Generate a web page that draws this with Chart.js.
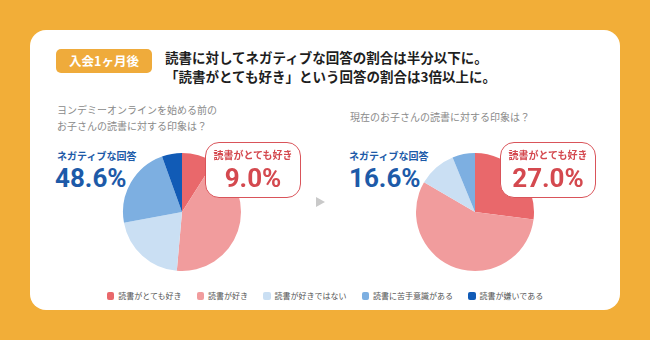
<!DOCTYPE html>
<html><head><meta charset="utf-8">
<script src="https://cdn.jsdelivr.net/npm/chart.js@4"></script>
<style>
html,body{margin:0;padding:0;}
body{width:650px;height:340px;background:#F2AE38;position:relative;overflow:hidden;font-family:"Noto Sans CJK JP","Noto Sans",sans-serif;}
.card{position:absolute;left:30px;top:30px;width:590px;height:280px;background:#fff;border-radius:16px;}
.abs{position:absolute;white-space:nowrap;}
.badge{left:56px;top:49px;width:96px;height:24px;background:#EFAB3B;border-radius:5px;color:#fff;font-weight:700;font-size:12.5px;line-height:24px;text-align:center;}
.title{left:165px;top:47.8px;font-weight:700;font-size:13.5px;line-height:19.5px;color:#1e1e1e;}
.sub{font-size:10px;line-height:16px;color:#8a8a8a;}
.neg{font-weight:700;font-size:10px;line-height:12px;color:#1D5AA8;}
.negv{font-family:Roboto,"Noto Sans",sans-serif;font-weight:700;font-size:26px;line-height:30px;color:#1D5AA8;}
.call{width:94px;height:54px;border:1.5px solid #D9545A;border-radius:14px;background:#fff;text-align:center;color:#D4494F;}
.call .l{position:absolute;left:0;right:0;top:6px;font-weight:700;font-size:10px;line-height:12px;}
.call .v{position:absolute;left:0;right:0;top:19.7px;font-family:Roboto,"Noto Sans",sans-serif;font-weight:700;font-size:26px;line-height:30px;}
.arrow{left:316px;top:197px;width:0;height:0;border-top:5.5px solid transparent;border-bottom:5.5px solid transparent;border-left:9px solid #C9C9C9;}
canvas{position:absolute;}
#legend{position:absolute;left:0;top:290px;width:650px;height:12px;display:flex;justify-content:center;align-items:center;gap:15px;}
#legend .it{display:flex;align-items:center;gap:4px;font-size:8px;color:#555;line-height:12px;}
#legend .sq{width:7.5px;height:7.5px;border-radius:2px;}
</style>
</head><body>
<div class="card"></div>
<div class="abs badge">入会1ヶ月後</div>
<div class="abs title">読書に対してネガティブな回答の割合は半分以下に。<br>「読書がとても好き」という回答の割合は3倍以上に。</div>
<div class="abs sub" style="left:57px;top:102px;">ヨンデミーオンラインを始める前の<br>お子さんの読書に対する印象は？</div>
<div class="abs sub" style="left:350px;top:108.5px;">現在のお子さんの読書に対する印象は？</div>
<div class="abs neg" style="left:57px;top:149.5px;">ネガティブな回答</div>
<div class="abs negv" style="left:55px;top:163.2px;" id="negLV"></div>
<div class="abs neg" style="left:349px;top:149.5px;">ネガティブな回答</div>
<div class="abs negv" style="left:349px;top:163.2px;" id="negRV"></div>
<canvas id="pieL" width="120" height="120" style="left:122px;top:152px;width:120px;height:120px;"></canvas>
<canvas id="pieR" width="120" height="120" style="left:415px;top:152px;width:120px;height:120px;"></canvas>
<div class="abs call" style="left:205px;top:142px;"><div class="l">読書がとても好き</div><div class="v" id="callLV"></div></div>
<div class="abs call" style="left:500px;top:142px;"><div class="l">読書がとても好き</div><div class="v" id="callRV"></div></div>
<div class="abs arrow"></div>
<div id="legend"></div>
<script>
const categories = ["読書がとても好き","読書が好き","読書が好きではない","読書に苦手意識がある","読書が嫌いである"];
const colors = ["#E9686B","#F19C9D","#CADFF3","#7DAFE1","#115BB6"];
const beforeValues = [9.0, 42.4, 20.7, 22.4, 5.5];
const afterValues = [27.0, 56.4, 10.4, 6.2, 0];
const negativeBefore = "48.6%";
const negativeAfter = "16.6%";
const lovesBefore = "9.0%";
const lovesAfter = "27.0%";

document.getElementById('negLV').textContent = negativeBefore;
document.getElementById('negRV').textContent = negativeAfter;
document.getElementById('callLV').textContent = lovesBefore;
document.getElementById('callRV').textContent = lovesAfter;

function makePie(id, values){
  new Chart(document.getElementById(id), {
    type: 'pie',
    data: { labels: categories, datasets: [{ data: values, backgroundColor: colors, borderWidth: 0 }] },
    options: {
      responsive: false, animation: false, devicePixelRatio: 1,
      layout: { padding: 1 },
      plugins: { legend: { display: false }, tooltip: { enabled: false } }
    }
  });
}
makePie('pieL', beforeValues);
makePie('pieR', afterValues);

const lg = document.getElementById('legend');
categories.forEach((c, i) => {
  const it = document.createElement('div'); it.className = 'it';
  const sq = document.createElement('div'); sq.className = 'sq'; sq.style.background = colors[i];
  const tx = document.createElement('span'); tx.textContent = c;
  it.appendChild(sq); it.appendChild(tx); lg.appendChild(it);
});
</script>
</body></html>
